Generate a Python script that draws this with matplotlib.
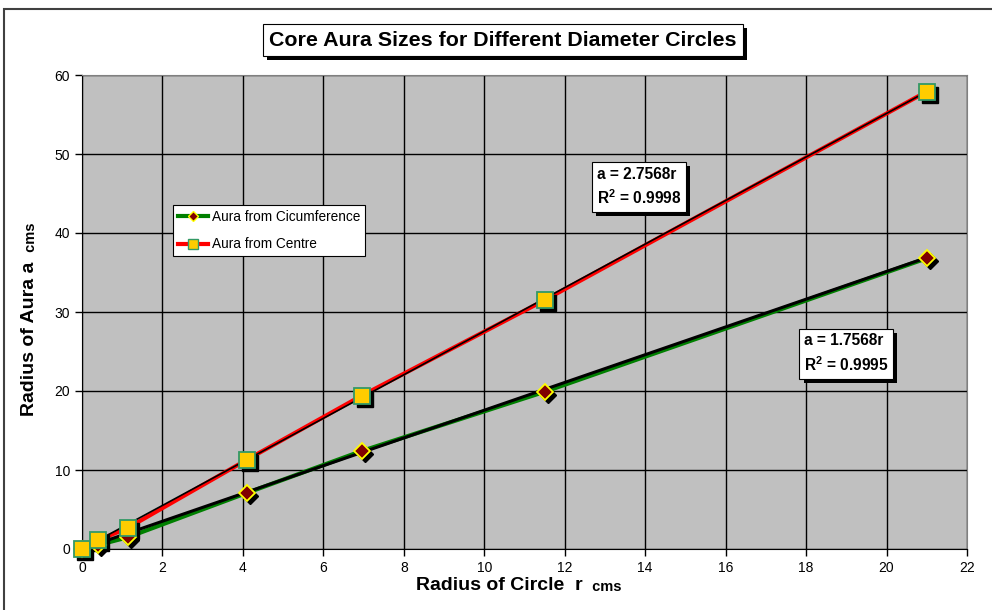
import matplotlib
matplotlib.use('Agg')
import matplotlib.pyplot as plt
import matplotlib.patheffects as pe
from matplotlib.transforms import offset_copy
from matplotlib.patches import Rectangle
import numpy as np

plt.rcParams['font.family'] = ['Liberation Sans', 'DejaVu Sans']
plt.rcParams['mathtext.fontset'] = 'custom'
plt.rcParams['mathtext.rm'] = 'Liberation Sans'
plt.rcParams['mathtext.bf'] = 'Liberation Sans:bold'

# data
radius = [0, 0.4, 1.15, 4.1, 6.95, 11.5, 21.0]
aura_circ = [0, 0.5, 1.5, 7.1, 12.4, 19.9, 36.8]
aura_centre = [0, 1.1, 2.7, 11.3, 19.4, 31.5, 57.9]
slope_circ = 1.7568
slope_centre = 2.7568
r2_circ = 0.9995
r2_centre = 0.9998
xticks = list(range(0, 23, 2))
yticks = list(range(0, 61, 10))

fig = plt.figure(figsize=(9.92, 6.10), dpi=100)
ax = fig.add_axes([82/992, 1-549/610, (967-82)/992, (549-75)/610])
ax.set_facecolor('#C0C0C0')

ax.set_xlim(0, 22)
ax.set_ylim(0, 60)
ax.set_xticks(xticks)
ax.set_yticks(yticks)
ax.grid(True, color='black', linewidth=1.0)
ax.set_axisbelow(True)
ax.tick_params(direction='out', length=5, width=1, labelsize=10, colors='black')
for s in ['top', 'right']:
    ax.spines[s].set_color('#808080')
for s in ['left', 'bottom']:
    ax.spines[s].set_color('black')

shadow = offset_copy(ax.transData, fig=fig, x=3, y=-3, units='dots')

# data lines
ax.plot(radius, aura_circ, color='#008000', linewidth=3, zorder=3)
ax.plot(radius, aura_centre, color='#FF0000', linewidth=3, zorder=3)

# trend lines
rr = np.array([0, radius[-1]])
ax.plot(rr, slope_circ * rr, color='black', linewidth=2.2, zorder=4)
ax.plot(rr, slope_centre * rr, color='black', linewidth=1.2, zorder=4)

# marker shadows
ax.plot(radius, aura_circ, linestyle='none', marker='D', markersize=8,
        color='black', transform=shadow, zorder=5, clip_on=False)
ax.plot(radius, aura_centre, linestyle='none', marker='s', markersize=12,
        color='black', transform=shadow, zorder=5, clip_on=False)

# markers
ax.plot(radius, aura_circ, linestyle='none', marker='D', markersize=8,
        markerfacecolor='#800000', markeredgecolor='#FFFF00', markeredgewidth=1.3,
        zorder=6, clip_on=False)
ax.plot(radius, aura_centre, linestyle='none', marker='s', markersize=12,
        markerfacecolor='#FFCC00', markeredgecolor='#339966', markeredgewidth=1.3,
        zorder=6, clip_on=False)

# legend
h1, = ax.plot([], [], color='#008000', linewidth=3, marker='D', markersize=5,
              markerfacecolor='#800000', markeredgecolor='#FFFF00')
h2, = ax.plot([], [], color='#FF0000', linewidth=3, marker='s', markersize=7,
              markerfacecolor='#FFCC00', markeredgecolor='#339966')
leg = fig.legend([h1, h2], ['Aura from Cicumference', 'Aura from Centre'],
                 loc='upper left', bbox_to_anchor=(173/992, 1-205/610),
                 fontsize=9.8, fancybox=False, framealpha=1, edgecolor='black',
                 handlelength=2.2, handletextpad=0.3, borderpad=0.35,
                 labelspacing=1.0, borderaxespad=0)
leg.get_frame().set_linewidth(0.8)

box_fx = [pe.SimplePatchShadow(offset=(3, -3), shadow_rgbFace='black', alpha=1), pe.Normal()]
box_kw = dict(boxstyle='square,pad=0.3', facecolor='white', edgecolor='black', linewidth=0.8)

t1 = ax.text(12.8, 48.4,
             'a = %.4fr\nR$^{\\mathbf{2}}$ = %.4f' % (slope_centre, r2_centre),
             fontsize=11.2, fontweight='bold', ha='left', va='top', zorder=8,
             linespacing=1.45, bbox=box_kw)
t1.get_bbox_patch().set_path_effects(box_fx)
t2 = ax.text(17.95, 27.3,
             'a = %.4fr\nR$^{\\mathbf{2}}$ = %.4f' % (slope_circ, r2_circ),
             fontsize=11.2, fontweight='bold', ha='left', va='top', zorder=8,
             linespacing=1.45, bbox=box_kw)
t2.get_bbox_patch().set_path_effects(box_fx)

# title
tt = fig.text(503/992, 1-40/610, 'Core Aura Sizes for Different Diameter Circles',
              fontsize=15.4, fontweight='bold', ha='center', va='center',
              bbox=dict(boxstyle='square,pad=0.3', facecolor='white', edgecolor='black', linewidth=0.8))
tt.get_bbox_patch().set_path_effects(box_fx)

# axis labels
xl = fig.text(502/992, 1-586/610, 'Radius of Circle  r ', fontsize=14, fontweight='bold',
              ha='center', va='center')
ax.annotate(' cms', xy=(1, 0.05), xycoords=xl, fontsize=10.5, fontweight='bold',
            ha='left', va='bottom')
yl = fig.text(30/992, 1-336/610, 'Radius of Aura a ', fontsize=14, fontweight='bold',
              ha='center', va='center', rotation=90)
ax.annotate(' cms', xy=(0.95, 1), xycoords=yl, fontsize=10.5, fontweight='bold',
            ha='right', va='bottom', rotation=90)

# outer border of the chart
fig.patches.append(Rectangle((4/992, -0.05), 1.1, 1-9/610+0.05, transform=fig.transFigure,
                             fill=False, edgecolor='#404040', linewidth=1.5))

fig.savefig('out.png', dpi=100)
